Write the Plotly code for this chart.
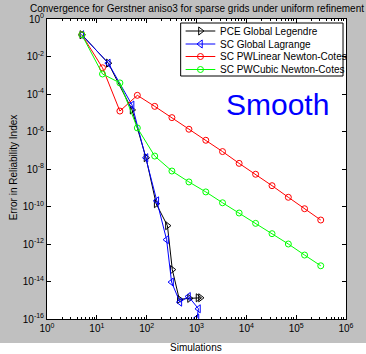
import plotly.graph_objects as go

# ---------------- data ----------------
pce_n = [5, 17, 51, 97, 155, 261, 327, 452, 724, 1072, 1202]
pce_err = [1.445e-1, 4.4e-3, 1.41e-5, 4.0e-8, 1.41e-10, 9.5e-12, 4.3e-14,
           1.12e-15, 1.26e-15, 1.35e-15, 1.35e-15]

scg_n = [5, 17, 51, 97, 160, 251, 316, 464, 692, 1096, 1023]
scg_err = [1.445e-1, 4.4e-3, 2.57e-5, 4.0e-8, 2.0e-10, 1.7e-12, 9.3e-15,
           7.9e-16, 1.58e-15, 3.5e-16, 1.12e-16]

pw_n = [5, 13, 29, 65, 145, 321, 705, 1537, 3329, 7169, 15361, 32769,
        69633, 147457, 311297]
pwlin_err = [1.445e-1, 2.5e-3, 1.23e-5, 8.5e-5, 2.19e-5, 5.5e-6, 1.32e-6,
             3.4e-7, 8.5e-8, 2.0e-8, 5.25e-9, 1.29e-9, 3.1e-10, 7.6e-11, 1.9e-11]
pwcub_err = [1.445e-1, 1.17e-3, 3.9e-4, 1.55e-6, 4.9e-8, 7.8e-9, 2.04e-9,
             6.0e-10, 1.58e-10, 4.5e-11, 1.26e-11, 3.55e-12, 1.0e-12,
             2.57e-13, 6.9e-14]

series_names = ["PCE Global Legendre", "SC Global Lagrange",
                "SC PWLinear Newton-Cotes", "SC PWCubic Newton-Cotes"]
series_colors = ["#000000", "#0000ff", "#ff0000", "#00ff00"]
series_symbols = ["triangle-right-open", "triangle-left-open",
                  "circle-open", "circle-open"]

x_exponents = [0, 1, 2, 3, 4, 5, 6]
y_exponents = [0, -2, -4, -6, -8, -10, -12, -14, -16]

title_text = "Convergence for Gerstner aniso3 for sparse grids under uniform refinement"
xlabel = "Simulations"
ylabel = "Error in Reliability Index"
note_text = "Smooth"

FONT = "Liberation Sans, Arial, sans-serif"
GRAY = "#c0c0c0"

fig = go.Figure()

xs = [pce_n, scg_n, pw_n, pw_n]
ys = [pce_err, scg_err, pwlin_err, pwcub_err]
for name, col, sym, x, y in zip(series_names, series_colors, series_symbols, xs, ys):
    fig.add_trace(go.Scatter(
        x=x, y=y, mode="lines+markers", name=name,
        line=dict(color=col, width=1),
        marker=dict(symbol=sym, size=7 if "triangle" in sym else 6,
                    color=col, line=dict(color=col, width=1)),
        showlegend=False,
    ))

# ---- geometry ----
L, R, T, B = 47, 17, 19, 35
W, H = 366, 354
px_left, px_right = L, W - R
px_top, px_bot = T, H - B


def paper_x(px):
    return (px - px_left) / (px_right - px_left)


def paper_y(py):
    return 1 - (py - px_top) / (px_bot - px_top)


# ---- hand-made legend in pixel space (overlay axes) ----
leg_box = (182, 23, 346, 76)
leg_rows = [31, 44, 56.5, 69.5]
line_x0, line_x1, text_x = 187, 217, 220
for name, col, sym, yy in zip(series_names, series_colors, series_symbols, leg_rows):
    fig.add_trace(go.Scatter(
        x=[line_x0, line_x1], y=[yy, yy], mode="lines",
        line=dict(color=col, width=1), xaxis="x2", yaxis="y2",
        showlegend=False, hoverinfo="skip"))
    fig.add_trace(go.Scatter(
        x=[(line_x0 + line_x1) / 2], y=[yy], mode="markers",
        marker=dict(symbol=sym, size=7 if "triangle" in sym else 6,
                    color=col, line=dict(color=col, width=1)),
        xaxis="x2", yaxis="y2", showlegend=False, hoverinfo="skip"))
    fig.add_annotation(x=text_x, y=yy, xref="x2", yref="y2", text=name,
                       showarrow=False, xanchor="left", yanchor="middle",
                       font=dict(family=FONT, size=10, color="black"))

fig.add_shape(type="rect", xref="x2", yref="y2",
              x0=leg_box[0], y0=leg_box[1], x1=leg_box[2], y1=leg_box[3],
              line=dict(color="black", width=1), fillcolor="rgba(0,0,0,0)",
              layer="above")

# white strip at bottom of figure
fig.add_shape(type="rect", xref="paper", yref="paper",
              x0=-1, x1=2, y0=paper_y(343), y1=paper_y(362),
              fillcolor="white", line=dict(width=0), layer="below")

fig.add_annotation(x=280, y=104, xref="x2", yref="y2", text=note_text,
                   showarrow=False, xanchor="center", yanchor="middle",
                   font=dict(family=FONT, size=30, color="#0000ff"))

fig.add_annotation(x=paper_x(197), y=paper_y(347), xref="paper", yref="paper",
                   text=xlabel, showarrow=False, xanchor="center",
                   yanchor="middle",
                   font=dict(family=FONT, size=10, color="black"))
fig.add_annotation(x=paper_x(13), y=paper_y(167), xref="paper", yref="paper",
                   text=ylabel, showarrow=False, xanchor="center",
                   yanchor="middle", textangle=-90,
                   font=dict(family=FONT, size=10, color="black"))

axis_common = dict(
    showline=True, linecolor="black", linewidth=1, mirror="ticks",
    ticks="inside", ticklen=4, tickcolor="black", showgrid=False,
    zeroline=False,
    tickfont=dict(family=FONT, size=10, color="black"),
)

fig.update_layout(
    width=W, height=H,
    margin=dict(l=L, r=R, t=T, b=B, pad=0),
    paper_bgcolor=GRAY, plot_bgcolor="white",
    font=dict(family=FONT, size=10, color="black"),
    title=dict(text=title_text, x=197 / W, xanchor="center",
               yref="container", y=1 - 8 / H, yanchor="middle",
               font=dict(family=FONT, size=10, color="black")),
    xaxis=dict(type="log", range=[0, 6],
               tickvals=[10 ** e for e in x_exponents],
               ticktext=[f"10<sup>{e}</sup>" for e in x_exponents],
               minor=dict(ticks="inside", ticklen=2, tickcolor="black",
                          dtick="D1", showgrid=False),
               **axis_common),
    yaxis=dict(type="log", range=[-16, 0],
               tickvals=[10.0 ** e for e in y_exponents],
               ticktext=[f"10<sup>{e}</sup>" for e in y_exponents],
               **axis_common),
    xaxis2=dict(overlaying="x", range=[px_left, px_right], visible=False,
                fixedrange=True),
    yaxis2=dict(overlaying="y", range=[px_bot, px_top], visible=False,
                fixedrange=True),
    xaxis3=dict(overlaying="x", side="top", type="log", range=[0, 6],
                tickvals=[10 ** e for e in x_exponents],
                showticklabels=False, ticks="inside", ticklen=4,
                tickcolor="black", showgrid=False, zeroline=False,
                showline=False,
                minor=dict(ticks="inside", ticklen=2, tickcolor="black",
                           dtick="D1", showgrid=False)),
    showlegend=False,
)

# dummy trace to activate the top axis
fig.add_trace(go.Scatter(x=[None], y=[None], xaxis="x3", yaxis="y",
                         showlegend=False, hoverinfo="skip"))

fig.write_html("out.html")
